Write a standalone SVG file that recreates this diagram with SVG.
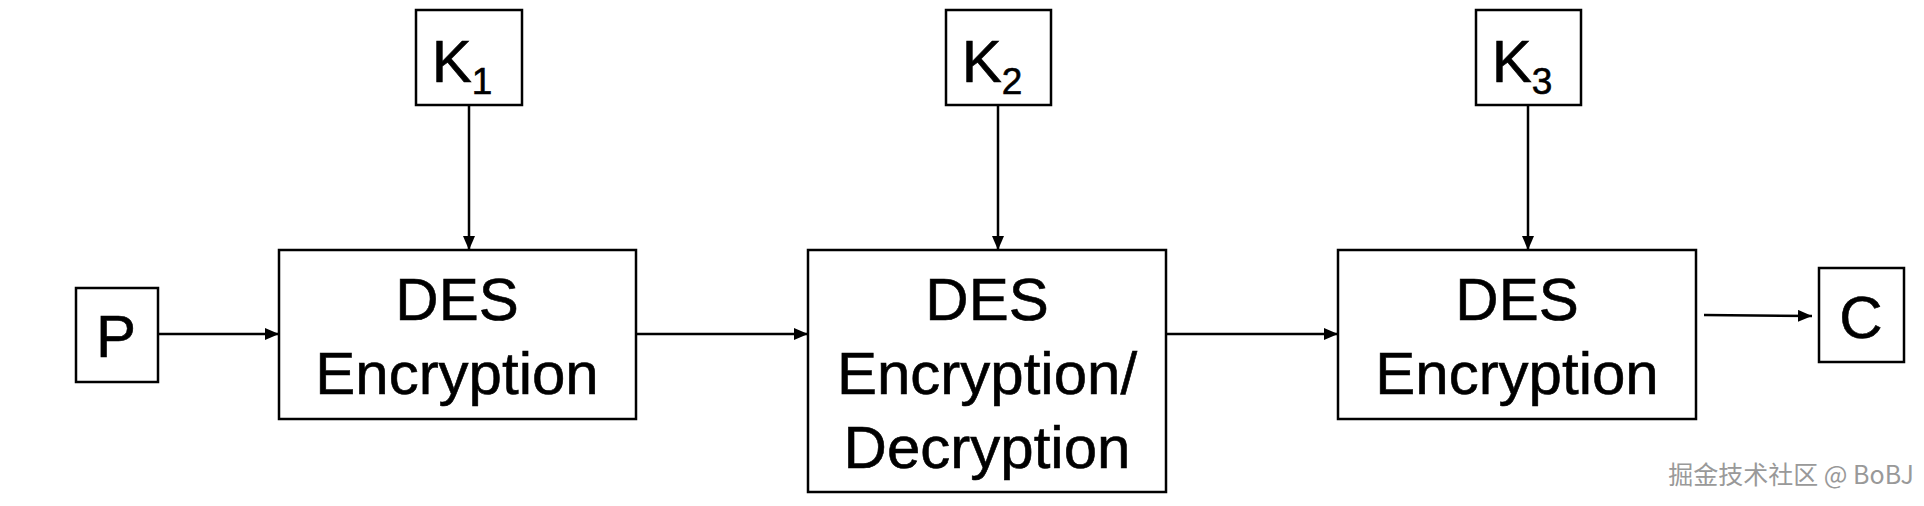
<svg xmlns="http://www.w3.org/2000/svg" width="1924" height="506" viewBox="0 0 1924 506">
<style>
.b{fill:#fff;stroke:#000;stroke-width:2.5}
.t{font-family:"Liberation Sans",Arial,sans-serif;font-size:60px;fill:#000;text-anchor:middle;stroke:#000;stroke-width:0.6}
.s{font-size:37px}
.c{stroke:#000;stroke-width:2.5;fill:none;marker-end:url(#a)}
</style>
<defs><marker id="a" markerWidth="14" markerHeight="12" refX="14" refY="6" orient="auto" markerUnits="userSpaceOnUse"><path d="M0,0L14,6L0,12z" fill="#000"/></marker></defs>
<rect width="1924" height="506" fill="#fff"/>
<g id="k1"><rect class="b" x="416" y="10" width="106" height="95"/><text class="t" x="462" y="82">K<tspan class="s" dy="12">1</tspan></text></g>
<g id="k2"><rect class="b" x="946" y="10" width="105" height="95"/><text class="t" x="992" y="82">K<tspan class="s" dy="12">2</tspan></text></g>
<g id="k3"><rect class="b" x="1476" y="10" width="105" height="95"/><text class="t" x="1522" y="82">K<tspan class="s" dy="12">3</tspan></text></g>
<g id="p"><rect class="b" x="76" y="288" width="82" height="94"/><text class="t" x="116" y="357">P</text></g>
<g id="c"><rect class="b" x="1819" y="268" width="85" height="94"/><text class="t" x="1861" y="338">C</text></g>
<g id="e1"><rect class="b" x="279" y="250" width="357" height="169"/><text class="t" x="457" y="320">DES</text><text class="t" x="457" y="394">Encryption</text></g>
<g id="e2"><rect class="b" x="808" y="250" width="358" height="242"/><text class="t" x="987" y="320">DES</text><text class="t" x="987" y="394">Encryption/</text><text class="t" x="987" y="468">Decryption</text></g>
<g id="e3"><rect class="b" x="1338" y="250" width="358" height="169"/><text class="t" x="1517" y="320">DES</text><text class="t" x="1517" y="394">Encryption</text></g>
<g id="connectors">
<line class="c" x1="469" y1="105" x2="469" y2="250"/>
<line class="c" x1="998" y1="105" x2="998" y2="250"/>
<line class="c" x1="1528" y1="105" x2="1528" y2="250"/>
<line class="c" x1="158" y1="334" x2="279" y2="334"/>
<line class="c" x1="636" y1="334" x2="808" y2="334"/>
<line class="c" x1="1166" y1="334" x2="1338" y2="334"/>
<line class="c" x1="1704" y1="315" x2="1812" y2="316"/>
</g>
<text x="1914" y="484" font-family="'Noto Sans CJK SC',sans-serif" font-size="25" fill="#999" text-anchor="end">掘金技术社区 @ BoBJ</text>
</svg>
